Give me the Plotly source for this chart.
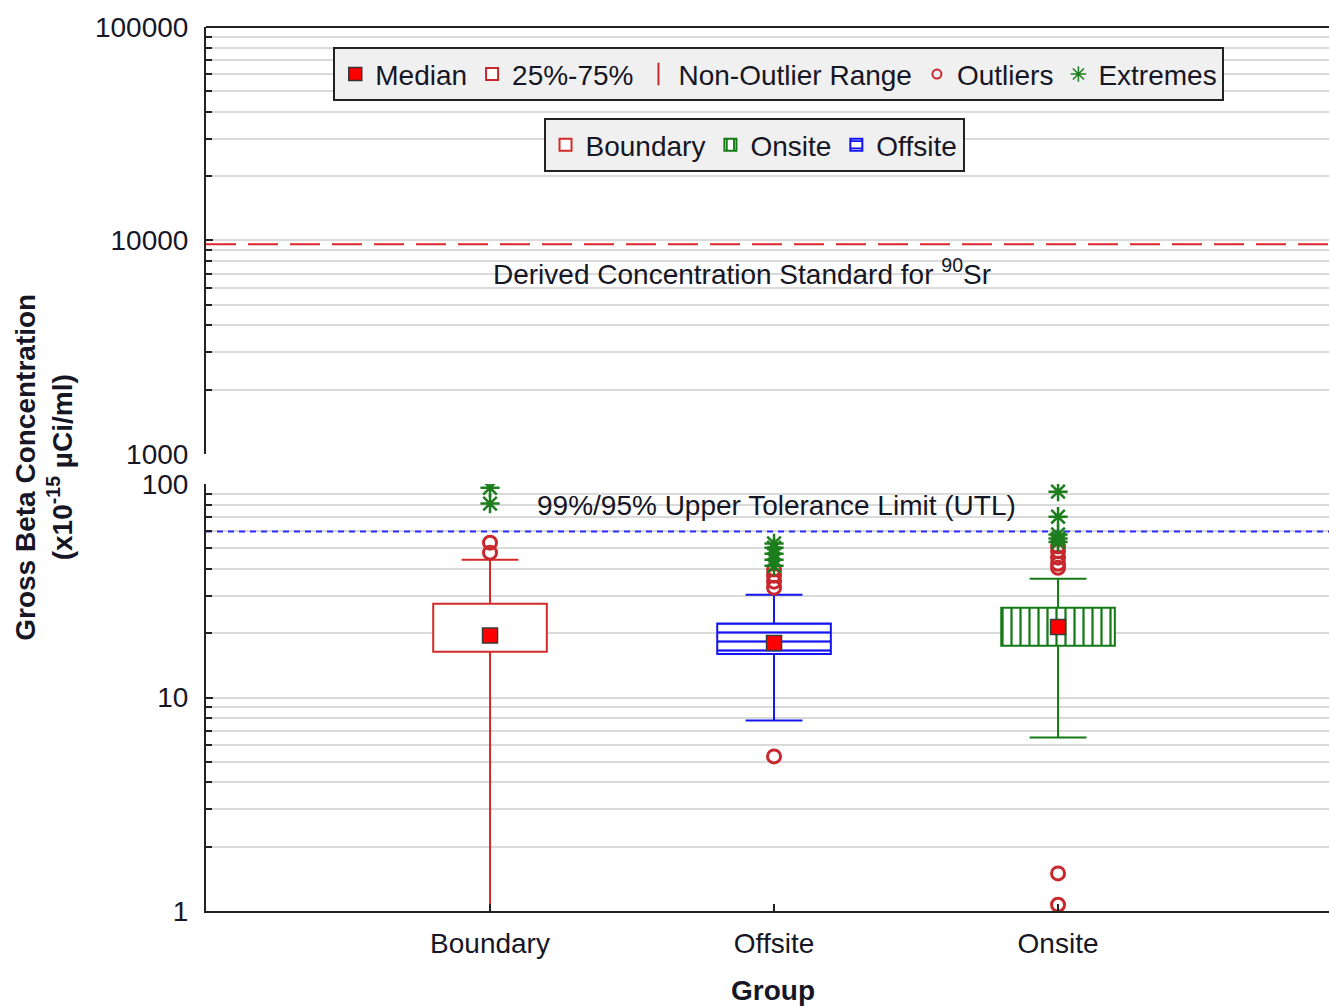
import plotly.graph_objects as go

# ---- data -------------------------------------------------------------
groups = ["Boundary", "Offsite", "Onsite"]
q1 = [16.4, 16.0, 17.5]
medians = [19.5, 18.0, 21.4]
q3 = [27.5, 22.2, 26.3]
whisker_low = [0.5, 7.8, 6.5]
whisker_high = [44.2, 30.3, 36.0]

boundary_outliers = [47.7, 53.1]
offsite_outliers = [5.3, 32.7, 34.9, 37.2, 39.8]
onsite_outliers = [1.07, 1.5, 40.5, 42.3, 45.2, 48.4, 51.0]

boundary_extremes = [81.0, 96.0]
offsite_extremes = [41.4, 44.2, 47.2, 50.3, 52.7]
onsite_extremes = [53.5, 55.5, 58.0, 70.3, 92.1]

utl_value = 60.0          # 99%/95% upper tolerance limit
dcs_value = 9600.0        # derived concentration standard for Sr-90

lower_ticks = [1, 10, 100]
upper_ticks = [1000, 10000, 100000]

# ---- style ------------------------------------------------------------
FONT = "Liberation Sans, Arial, sans-serif"
FS = 28
TXT = "#161625"
GRID = "#dadada"
box_colors = {"Boundary": "#d42a2a", "Offsite": "#1414f0", "Onsite": "#137a16"}
box_patterns = {"Boundary": "", "Offsite": "-", "Onsite": "|"}
legend_rank = {"Boundary": 1, "Onsite": 2, "Offsite": 3}
OUT_RED = "#c8282d"
EXT_GREEN = "#1c7d1c"
BOX_W = 0.40
CAP_HALF = 0.10

outliers = [boundary_outliers, offsite_outliers, onsite_outliers]
extremes = [boundary_extremes, offsite_extremes, onsite_extremes]

fig = go.Figure()

# legend entries describing the plot symbols
fig.add_trace(go.Scatter(
    x=[None], y=[None], mode="markers", name="Median", legend="legend",
    marker=dict(symbol="square", size=13, color="#ff0000",
                line=dict(color="#333333", width=1.5))))
fig.add_trace(go.Bar(
    x=[None], y=[None], name="25%-75%", legend="legend",
    marker=dict(color="white", line=dict(color=OUT_RED, width=2))))
fig.add_trace(go.Scatter(
    x=[None], y=[None], mode="markers", name="Non-Outlier Range", legend="legend",
    marker=dict(symbol="line-ns-open", size=20, color=OUT_RED,
                line=dict(color=OUT_RED, width=2))))
fig.add_trace(go.Scatter(
    x=[None], y=[None], mode="markers", name="Outliers", legend="legend",
    marker=dict(symbol="circle-open", size=9, color=OUT_RED,
                line=dict(color=OUT_RED, width=2))))
fig.add_trace(go.Scatter(
    x=[None], y=[None], mode="markers", name="Extremes", legend="legend",
    marker=dict(symbol="asterisk-open", size=13, color=EXT_GREEN,
                line=dict(color=EXT_GREEN, width=1.5))))

# boxes (25%-75%) as floating bars
for i, g in enumerate(groups):
    c = box_colors[g]
    pattern = dict(shape=box_patterns[g], fgcolor=c, fgopacity=1, bgcolor="white",
                   size=9, solidity=0.25, fillmode="overlay")
    fig.add_trace(go.Bar(
        x=[i], base=[q1[i]], y=[q3[i] - q1[i]], width=BOX_W,
        name=g, legend="legend2", legendrank=legend_rank[g],
        marker=dict(color="white", line=dict(color=c, width=2), pattern=pattern),
        hoverinfo="skip"))

# whiskers with caps
for i, g in enumerate(groups):
    c = box_colors[g]
    xs = [i, i, None, i, i, None,
          i - CAP_HALF, i + CAP_HALF, None, i - CAP_HALF, i + CAP_HALF]
    ys = [q3[i], whisker_high[i], None, q1[i], whisker_low[i], None,
          whisker_high[i], whisker_high[i], None, whisker_low[i], whisker_low[i]]
    fig.add_trace(go.Scatter(x=xs, y=ys, mode="lines", showlegend=False,
                             line=dict(color=c, width=2), hoverinfo="skip"))

# reference lines
fig.add_trace(go.Scatter(
    x=[-1, 3], y=[utl_value, utl_value], mode="lines", showlegend=False,
    line=dict(color="#2a2aff", width=2, dash="6px,5px"), hoverinfo="skip"))
fig.add_trace(go.Scatter(
    x=[-1, 3], y=[dcs_value, dcs_value], mode="lines", showlegend=False, yaxis="y2",
    line=dict(color="#d8262b", width=2, dash="30px,12px"), hoverinfo="skip"))

# outliers and extremes
for i, g in enumerate(groups):
    fig.add_trace(go.Scatter(
        x=[i] * len(outliers[i]), y=outliers[i], mode="markers", showlegend=False,
        marker=dict(symbol="circle-open", size=13, color=OUT_RED,
                    line=dict(color=OUT_RED, width=3))))
    fig.add_trace(go.Scatter(
        x=[i] * len(extremes[i]), y=extremes[i], mode="markers", showlegend=False,
        marker=dict(symbol="asterisk-open", size=16, color=EXT_GREEN,
                    line=dict(color=EXT_GREEN, width=2.5))))

# medians
fig.add_trace(go.Scatter(
    x=list(range(len(groups))), y=medians, mode="markers", showlegend=False,
    marker=dict(symbol="square", size=15, color="#ff0000",
                line=dict(color="#3a3a3a", width=1.5))))

minor_low = [m * 10 ** k for k in range(0, 2) for m in range(2, 10)]
minor_up = [m * 10 ** k for k in range(3, 5) for m in range(2, 10)]

axis_common = dict(
    type="log", showline=True, linecolor="#222222", linewidth=2,
    ticks="inside", ticklen=7, tickwidth=2, tickcolor="#222222",
    showgrid=True, gridcolor=GRID, gridwidth=2, zeroline=False,
    tickfont=dict(family=FONT, size=FS, color=TXT), ticklabelstandoff=10,
    anchor="x",
)

fig.update_layout(
    width=1329, height=1006,
    margin=dict(l=206, r=0, t=27, b=95),
    paper_bgcolor="white", plot_bgcolor="white",
    font=dict(family=FONT, size=FS, color=TXT),
    barmode="overlay",
    xaxis=dict(
        range=[-1, 2.954], tickvals=list(range(len(groups))), ticktext=groups,
        ticks="inside", ticklen=7, tickwidth=1.5, tickcolor="#222222",
        showline=True, linecolor="#222222", linewidth=2, showgrid=False,
        zeroline=False, tickfont=dict(family=FONT, size=FS, color=TXT),
        ticklabelstandoff=6, anchor="y",
    ),
    yaxis=dict(
        domain=[0, 0.483], range=[0, 2],
        tickvals=lower_ticks, ticktext=[str(v) for v in lower_ticks],
        minor=dict(tickvals=minor_low, ticks="inside", ticklen=6, tickwidth=2,
                   tickcolor="#222222", showgrid=True, gridcolor=GRID, gridwidth=2),
        **axis_common,
    ),
    yaxis2=dict(
        domain=[0.517, 1], range=[3, 5],
        tickvals=upper_ticks, ticktext=[str(v) for v in upper_ticks],
        minor=dict(tickvals=minor_up, ticks="inside", ticklen=6, tickwidth=2,
                   tickcolor="#222222", showgrid=True, gridcolor=GRID, gridwidth=2),
        **axis_common,
    ),
    legend=dict(
        orientation="h", x=0.51, xanchor="center", y=0.977, yanchor="top",
        bgcolor="#f0f0f0", bordercolor="#222222", borderwidth=2,
        font=dict(family=FONT, size=FS, color=TXT), traceorder="normal",
    ),
    legend2=dict(
        orientation="h", x=0.488, xanchor="center", y=0.897, yanchor="top",
        bgcolor="#f0f0f0", bordercolor="#222222", borderwidth=2,
        font=dict(family=FONT, size=FS, color=TXT), traceorder="normal",
    ),
    shapes=[dict(type="line", xref="paper", yref="paper", x0=0, x1=1, y0=1, y1=1,
                 line=dict(color="#222222", width=2))],
    annotations=[
        dict(text="Derived Concentration Standard for <sup>90</sup>Sr",
             xref="paper", yref="paper", x=0.477, y=0.745,
             showarrow=False, font=dict(family=FONT, size=FS, color=TXT)),
        dict(text="99%/95% Upper Tolerance Limit (UTL)",
             xref="paper", yref="paper", x=0.508, y=0.459,
             showarrow=False, font=dict(family=FONT, size=FS, color=TXT)),
        dict(text="<b>Gross Beta Concentration</b><br><b>(x10<sup>-15</sup> µCi/ml)</b>",
             xref="paper", yref="paper", x=-0.1447, y=0.502, textangle=-90,
             xanchor="center", yanchor="middle", showarrow=False,
             font=dict(family=FONT, size=28, color=TXT)),
        dict(text="<b>Group</b>", xref="paper", yref="paper", x=0.505, y=-0.0894,
             xanchor="center", yanchor="middle", showarrow=False,
             font=dict(family=FONT, size=FS, color=TXT)),
    ],
)

fig.write_html("out.html")
